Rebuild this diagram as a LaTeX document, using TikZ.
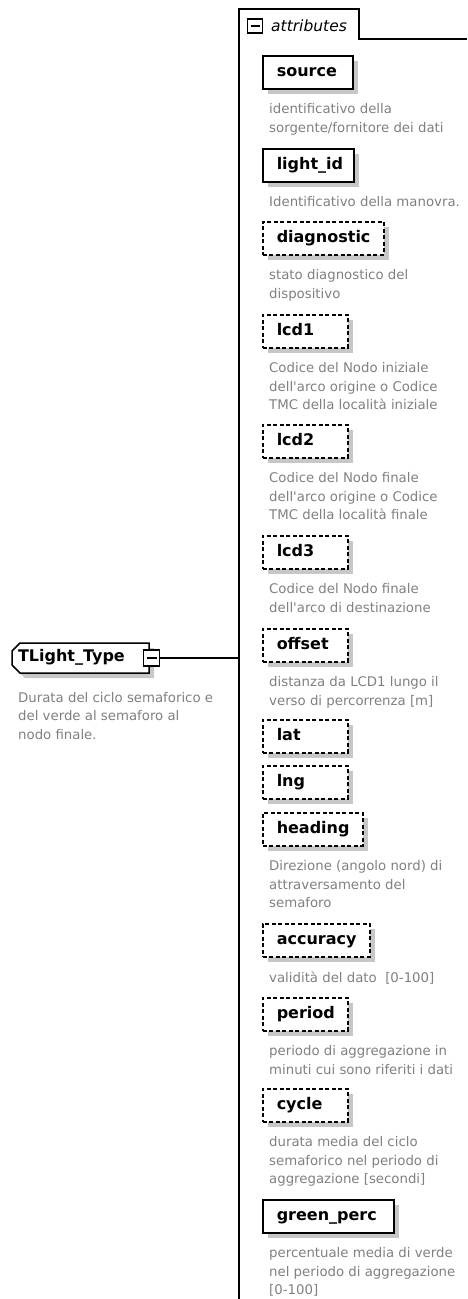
\documentclass[tikz,border=0pt]{standalone}
\usepackage{fontspec}
\setmainfont{DejaVu Sans}
\usetikzlibrary{positioning,shadows,shapes.misc}

\tikzset{
    attr/.style={draw, fill=white, line width=1.5pt, minimum height=33pt,
        inner xsep=14pt, inner ysep=0pt, text width=#1, align=left,
        text height=11.5pt, text depth=3.7pt, anchor=north west,
        font={\fontsize{16}{18}\selectfont\bfseries\hyphenpenalty=10000 },
        drop shadow={shadow xshift=5pt, shadow yshift=-5pt, fill=black!22, opacity=1}},
    optattr/.style={attr=#1, dash pattern=on 4pt off 2.5pt},
    desc/.style={inner sep=0pt, align=left, text=gray, anchor=north west,
        font=\fontsize{13.3}{18.5}\selectfont},
    minusbox/.style={draw, fill=white, line width=1.4pt, minimum width=15pt,
        minimum height=14pt, inner sep=0pt,
        path picture={\draw[line width=1.4pt] ([xshift=3pt]path picture bounding box.west)
            -- ([xshift=-3pt]path picture bounding box.east);}},
    typebox/.style={chamfered rectangle, chamfered rectangle corners={north west,south west},
        chamfered rectangle xsep=4pt, chamfered rectangle ysep=4pt,
        draw, fill=white, line width=1.5pt, minimum width=137pt, minimum height=30pt,
        inner sep=0pt, text width=125pt, align=left, text height=11.5pt, text depth=3.7pt,
        font=\fontsize{16}{18}\selectfont\bfseries,
        drop shadow={shadow xshift=5pt, shadow yshift=-5pt, fill=black!22, opacity=1}}
}

\begin{document}
\begin{tikzpicture}[x=1pt, y={(0pt,-1pt)}]
    \useasboundingbox (0,0) rectangle (467,1299);

    % attributes panel
    \coordinate (panel) at (239,9);
    \draw[line width=1.4pt] (panel |- 0,1299) -- (panel) -- (359,9) -- (359,39) -- (467,39);
    \node[minusbox] (tabminus) at (255,26) {};
    \node[anchor=west, inner sep=0pt, font=\fontsize{15.5}{18}\selectfont\itshape] (tabtitle) at (271,26) {attributes};

    % complex type
    \node[typebox] (tltype) at (80.5,658) {TLight\_Type};
    \node[minusbox, minimum width=16pt, minimum height=16pt] (tlminus) at ([xshift=2pt]tltype.east) {};
    \draw[line width=1.4pt] (tlminus.east) -- (tlminus.east -| panel);
    \node[desc] (tldesc) at (18,692) {Durata del ciclo semaforico e\\del verde al semaforo al\\nodo finale.};

    % attributes
    \node[attr=62pt] (source) at (262,55) {source};
    \node[desc, below right=14pt and 7pt of source.south west] (sourcedesc) {identificativo della\\sorgente/fornitore dei dati};

    \node[attr=63pt] (lightid) at (262,148) {light\_id};
    \node[desc, below right=14pt and 7pt of lightid.south west] (lightiddesc) {Identificativo della manovra.};

    \node[optattr=93pt] (diagnostic) at (262,221) {diagnostic};
    \node[desc, below right=14pt and 7pt of diagnostic.south west] (diagnosticdesc) {stato diagnostico del\\dispositivo};

    \node[optattr=57pt] (lcdone) at (262,314) {lcd1};
    \node[desc, below right=14pt and 7pt of lcdone.south west] (lcdonedesc) {Codice del Nodo iniziale\\dell\textquotesingle arco origine o Codice\\TMC della località iniziale};

    \node[optattr=57pt] (lcdtwo) at (262,424) {lcd2};
    \node[desc, below right=14pt and 7pt of lcdtwo.south west] (lcdtwodesc) {Codice del Nodo finale\\dell\textquotesingle arco origine o Codice\\TMC della località finale};

    \node[optattr=57pt] (lcdthree) at (262,535) {lcd3};
    \node[desc, below right=14pt and 7pt of lcdthree.south west] (lcdthreedesc) {Codice del Nodo finale\\dell\textquotesingle arco di destinazione};

    \node[optattr=57pt] (offset) at (262,628) {offset};
    \node[desc, below right=14pt and 7pt of offset.south west] (offsetdesc) {distanza da LCD1 lungo il\\verso di percorrenza [m]};

    \node[optattr=57pt] (lat) at (262,719) {lat};
    \node[optattr=57pt] (lng) at (262,765) {lng};

    \node[optattr=72pt] (heading) at (262,812) {heading};
    \node[desc, below right=14pt and 7pt of heading.south west] (headingdesc) {Direzione (angolo nord) di\\attraversamento del\\semaforo};

    \node[optattr=79pt] (accuracy) at (262,923) {accuracy};
    \node[desc, below right=14pt and 7pt of accuracy.south west] (accuracydesc) {validità del dato~ [0-100]};

    \node[optattr=57pt] (period) at (262,997) {period};
    \node[desc, below right=14pt and 7pt of period.south west] (perioddesc) {periodo di aggregazione in\\minuti cui sono riferiti i dati};

    \node[optattr=57pt] (cycle) at (262,1088) {cycle};
    \node[desc, below right=14pt and 7pt of cycle.south west] (cycledesc) {durata media del ciclo\\semaforico nel periodo di\\aggregazione [secondi]};

    \node[attr=103pt] (greenperc) at (262,1199) {green\_perc};
    \node[desc, below right=14pt and 7pt of greenperc.south west] (greenpercdesc) {percentuale media di verde\\nel periodo di aggregazione\\{}[0-100]};
\end{tikzpicture}
\end{document}
